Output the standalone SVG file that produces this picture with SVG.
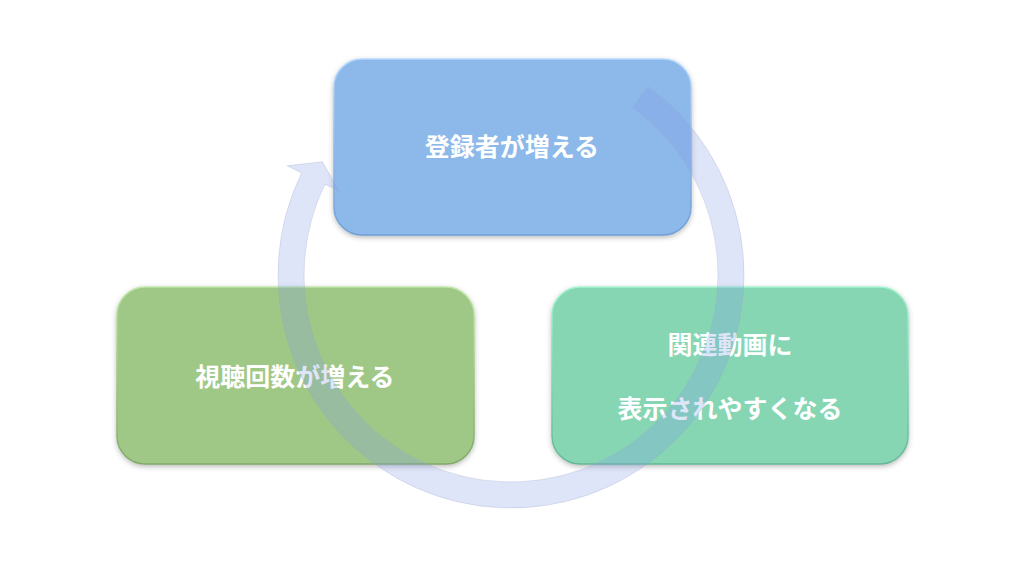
<svg xmlns="http://www.w3.org/2000/svg" width="1024" height="576" viewBox="0 0 1024 576">
  <defs>
    <filter id="shadow" x="-10%" y="-10%" width="120%" height="130%">
      <feDropShadow dx="0" dy="2" stdDeviation="2.5" flood-color="#404040" flood-opacity="0.35"/>
    </filter>
    <linearGradient id="edgeBlue" x1="0" y1="0" x2="0" y2="1">
      <stop offset="0" stop-color="#b4d8ff"/>
      <stop offset="1" stop-color="#6f9fd6"/>
    </linearGradient>
    <linearGradient id="edgeGreen" x1="0" y1="0" x2="0" y2="1">
      <stop offset="0" stop-color="#c0e6a8"/>
      <stop offset="1" stop-color="#7faa68"/>
    </linearGradient>
    <linearGradient id="edgeTeal" x1="0" y1="0" x2="0" y2="1">
      <stop offset="0" stop-color="#a6f4d2"/>
      <stop offset="1" stop-color="#62b896"/>
    </linearGradient>
  </defs>
  <style>
    .box { stroke-width: 1.5; filter: url(#shadow); }
    .label { font-family: "Noto Sans CJK JP", "Noto Sans", sans-serif; font-weight: bold; font-size: 25px; fill: #ffffff; text-anchor: middle; dominant-baseline: central; }
    .ring { fill: rgb(128,152,230); fill-opacity: 0.25; stroke: #9aa6c8; stroke-opacity: 0.3; stroke-width: 1; }
  </style>
  <rect width="1024" height="576" fill="#ffffff"/>

  <g id="node-subscribers">
    <rect class="box" x="334" y="59" width="357" height="176" rx="28" fill="#8cb9ea" stroke="url(#edgeBlue)"/>
    <text class="label" x="512" y="145">登録者が増える</text>
  </g>
  <g id="node-related">
    <rect class="box" x="552" y="287" width="356" height="177" rx="28" fill="#86d6b4" stroke="url(#edgeTeal)"/>
    <text class="label" x="730" y="343">関連動画に</text>
    <text class="label" x="730" y="407">表示されやすくなる</text>
  </g>
  <g id="node-views">
    <rect class="box" x="117" y="287" width="357" height="177" rx="28" fill="#9fc887" stroke="url(#edgeGreen)"/>
    <text class="label" x="295" y="375">視聴回数が増える</text>
  </g>

  <g id="connectors">
    <path class="ring" d="M 647.96 86.5 A 233 233 0 1 1 301.6 172.9 L 287.2 165.8 L 322.4 161.7 L 339.3 191.3 L 324.95 184.25 A 207 207 0 1 0 632.67 107.5 Z"/>
  </g>
</svg>
